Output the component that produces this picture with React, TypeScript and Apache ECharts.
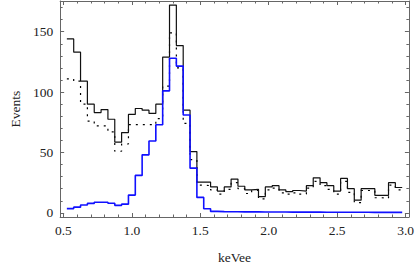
import React, { useEffect, useRef } from "react";
import * as echarts from "echarts";

// Bin edges (keVee) of the histogram: 49 bins
const binEdges = [
  0.525, 0.575, 0.625, 0.675, 0.725, 0.775, 0.825, 0.875, 0.925, 0.975,
  1.025, 1.075, 1.125, 1.175, 1.225, 1.275, 1.325, 1.375, 1.425, 1.475,
  1.525, 1.575, 1.625, 1.675, 1.725, 1.775, 1.825, 1.875, 1.925, 1.975,
  2.025, 2.075, 2.125, 2.175, 2.225, 2.275, 2.325, 2.375, 2.425, 2.475,
  2.525, 2.575, 2.625, 2.675, 2.725, 2.775, 2.825, 2.875, 2.925, 2.975,
];

// Black solid histogram
const totalEvents = [
  144, 133, 109, 90, 83, 85.5, 77.5, 58.5, 66.5, 81.5, 86.4, 85, 82.3, 90, 129, 172, 138.5, 85, 50.7,
  25.5, 25.5, 21.5, 18, 21.5, 28, 22, 19, 19.5, 13.5, 21.5, 22.5, 19, 17.5, 18.5, 18,
  22.5, 29, 25, 22.5, 18, 28.5, 20, 10.5, 20, 20, 14.5, 14.5, 25, 21,
];

// Black dotted histogram
const dottedEvents = [
  111, 109, 90, 76, 72, 72, 67, 51, 57, 73, 73, 73, 73, 78, 105, 149, 120, 74, 44,
  23, 22.5, 19, 15.5, 19.5, 25, 20, 16, 18.5, 11.5, 19, 20.5, 16.5, 15.5, 16.5, 15.5,
  20.5, 26, 22.5, 19.5, 15.5, 26, 17, 8.5, 18.5, 18.5, 12.5, 12, 23, 19,
];

// Blue histogram
const blueEvents = [
  3.5, 4.7, 6.5, 7.8, 8.8, 8.8, 8, 6.2, 7.2, 14.7, 31, 48, 59.5, 73, 101, 128, 121.5, 81, 37,
  12.8, 3.4, 1.2, 1, 0.9, 0.9, 0.8, 0.8, 0.8, 0.7, 0.7, 0.7, 0.7, 0.6, 0.6, 0.6, 0.6, 0.6,
  0.5, 0.5, 0.5, 0.5, 0.5, 0.5, 0.5, 0.4, 0.4, 0.4, 0.4, 0.4,
];

// Axis ticks
const xMajorTicks = [0.5, 1.0, 1.5, 2.0, 2.5, 3.0];
const xMinorTicks = [
  0.6, 0.7, 0.8, 0.9, 1.1, 1.2, 1.3, 1.4, 1.6, 1.7, 1.8, 1.9,
  2.1, 2.2, 2.3, 2.4, 2.6, 2.7, 2.8, 2.9,
];
const yMajorTicks = [0, 50, 100, 150];
const yMinorTicks = [10, 20, 30, 40, 60, 70, 80, 90, 110, 120, 130, 140, 160, 170];

const X_MIN = 0.476;
const X_MAX = 3.024;
const Y_MIN = -3.44;
const Y_MAX = 175.4;

const FONT = "Liberation Serif";
const FONT_SIZE = 13.5;
const FRAME = "#666";
const TEXT = "#222";

function stepData(values: number[]) {
  const pts: number[][] = values.map((v, i) => [binEdges[i], v]);
  pts.push([binEdges[values.length], values[values.length - 1]]);
  return pts;
}

function xAxisDef(position: "bottom" | "top", ticks: number[], len: number, labels: boolean, line: boolean) {
  return {
    type: "value",
    position,
    min: X_MIN,
    max: X_MAX,
    splitLine: { show: false },
    axisLine: { show: line, onZero: false, lineStyle: { color: FRAME, width: 1 } },
    axisTick: {
      show: true,
      inside: true,
      length: len,
      customValues: ticks,
      lineStyle: { color: FRAME, width: 1 },
    },
    axisLabel: labels
      ? {
          show: true,
          customValues: xMajorTicks,
          formatter: (v: number) => v.toFixed(1),
          fontFamily: FONT,
          fontSize: FONT_SIZE,
          color: TEXT,
          margin: 6,
        }
      : { show: false },
  };
}

function yAxisDef(position: "left" | "right", ticks: number[], len: number, labels: boolean, line: boolean) {
  return {
    type: "value",
    position,
    min: Y_MIN,
    max: Y_MAX,
    splitLine: { show: false },
    axisLine: { show: line, onZero: false, lineStyle: { color: FRAME, width: 1 } },
    axisTick: {
      show: true,
      inside: true,
      length: len,
      customValues: ticks,
      lineStyle: { color: FRAME, width: 1 },
    },
    axisLabel: labels
      ? {
          show: true,
          customValues: yMajorTicks,
          formatter: (v: number) => String(Math.round(v)),
          fontFamily: FONT,
          fontSize: FONT_SIZE,
          color: TEXT,
          margin: 7,
        }
      : { show: false },
  };
}

export default function App() {
  const ref = useRef<HTMLDivElement>(null);

  useEffect(() => {
    if (!ref.current) return;
    const chart = echarts.init(ref.current, null, { renderer: "svg" });
    const xMain: any = xAxisDef("bottom", xMajorTicks, 4, true, true);
    xMain.name = "keVee";
    xMain.nameLocation = "middle";
    xMain.nameGap = 33;
    xMain.nameTextStyle = { fontFamily: FONT, fontSize: FONT_SIZE, color: TEXT };
    const yMain: any = yAxisDef("left", yMajorTicks, 4, true, true);
    yMain.name = "Events";
    yMain.nameLocation = "middle";
    yMain.nameRotate = 90;
    yMain.nameGap = 38;
    yMain.nameTextStyle = { fontFamily: FONT, fontSize: FONT_SIZE, color: TEXT };

    chart.setOption({
      animation: false,
      backgroundColor: "#fff",
      grid: { left: 54, right: 6.5, top: 1, bottom: 49.5 },
      xAxis: [
        xMain,
        xAxisDef("bottom", xMinorTicks, 2.5, false, false),
        xAxisDef("top", xMajorTicks, 4, false, true),
        xAxisDef("top", xMinorTicks, 2.5, false, false),
      ],
      yAxis: [
        yMain,
        yAxisDef("left", yMinorTicks, 2.5, false, false),
        yAxisDef("right", yMajorTicks, 4, false, true),
        yAxisDef("right", yMinorTicks, 2.5, false, false),
      ],
      series: [
        {
          type: "line",
          name: "dotted",
          step: "end",
          data: stepData(dottedEvents),
          showSymbol: false,
          symbol: "none",
          lineStyle: { color: "#000", width: 1.2, type: [2, 5] },
          z: 2,
        },
        {
          type: "line",
          name: "total",
          step: "end",
          data: stepData(totalEvents),
          showSymbol: false,
          symbol: "none",
          lineStyle: { color: "#111", width: 1.2 },
          z: 3,
        },
        {
          type: "line",
          name: "blue",
          step: "end",
          data: stepData(blueEvents),
          showSymbol: false,
          symbol: "none",
          lineStyle: { color: "#1010ff", width: 1.6 },
          z: 4,
        },
      ],
    });
    return () => chart.dispose();
  }, []);

  return (
    <div
      ref={ref}
      style={{ position: "fixed", left: 0, top: 0, width: 417, height: 269 }}
    />
  );
}
